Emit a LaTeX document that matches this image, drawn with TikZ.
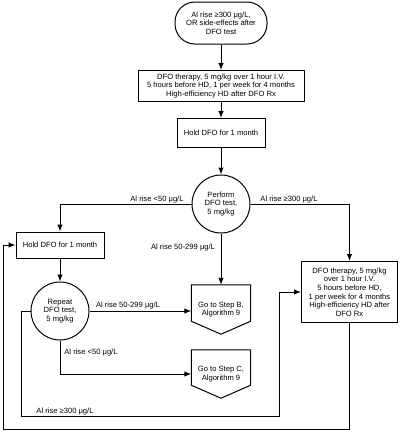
\documentclass[tikz,border=0pt]{standalone}
\usepackage{fontspec}
\setmainfont{Liberation Sans}
\usetikzlibrary{arrows.meta,calc}
\begin{document}
\begin{tikzpicture}[x=1pt,y=-1pt,
  every node/.style={font=\fontsize{7.6}{8.6}\selectfont, inner sep=0pt, align=center},
  bx/.style={draw, line width=1pt},
  pent/.style={minimum width=59pt},
  arr/.style={-{Latex[length=7pt,width=5.5pt]}, line width=1pt},
  ln/.style={line width=1pt},
  lbl/.style={anchor=base, inner sep=0pt}
]
\useasboundingbox (0,0) rectangle (400,432);

\node[bx, rounded corners=20pt, minimum width=92pt, minimum height=42pt] (start) at (221,23) {Al rise ≥300 μg/L,\\OR side-effects after\\DFO test};
\node[bx, minimum width=166pt, minimum height=31pt] (t1) at (221,86) {DFO therapy, 5 mg/kg over 1 hour I.V.\\5 hours before HD, 1 per week for 4 months\\High-efficiency HD after DFO Rx};
\node[bx, minimum width=88pt, minimum height=29pt] (h1) at (221,133) {Hold DFO for 1 month};
\node[bx, circle, minimum size=58pt] (c1) at (221,204) {Perform\\DFO test,\\5 mg/kg};
\node[bx, minimum width=88pt, minimum height=26pt] (h2) at (60,245) {Hold DFO for 1 month};
\node[bx, circle, minimum size=58pt] (c2) at (60,311) {Repeat\\DFO test,\\5 mg/kg};
\node[pent, minimum height=49pt] (gb) at (221,309.5) {Go to Step B,\\Algorithm 9};
\node[pent, minimum height=48pt] (gc) at (221,374) {Go to Step C,\\Algorithm 9};
\node[bx, minimum width=96pt, minimum height=61pt] (t2) at (349.5,292) {DFO therapy, 5 mg/kg\\over 1 hour I.V.\\5 hours before HD,\\1 per week for 4 months\\High-efficiency HD after\\DFO Rx};

\draw[ln] (gb.north west) -- (gb.north east) -- ($(gb.south east)+(0,-13)$) -- (gb.south) -- ($(gb.south west)+(0,-13)$) -- cycle;
\draw[ln] (gc.north west) -- (gc.north east) -- ($(gc.south east)+(0,-13)$) -- (gc.south) -- ($(gc.south west)+(0,-13)$) -- cycle;

\coordinate (lp1) at (21,416);
\coordinate (lp2) at (279,416);
\coordinate (lo2) at (3,429);

\draw[arr] (start) -- (t1);
\draw[arr] (t1) -- (h1);
\draw[arr] (h1) -- (c1);
\draw[arr] (c1.west) -| (h2.north);
\draw[arr] (c1.east) -| (t2.north);
\draw[arr] (c1.south) -- (gb.north);
\draw[arr] (h2) -- (c2);
\draw[arr] (c2.east) -- (c2.east -| gb.west);
\draw[arr] (c2.south) |- (gc.west);
\draw[arr] (c2.west) -| (lp1) -- (lp2) |- (t2.west);
\draw[arr] (t2.south) |- (lo2) |- (h2.west);

\node[lbl] (l1) at (157,201) {Al rise <50 μg/L};
\node[lbl] (l2) at (289,201) {Al rise ≥300 μg/L};
\node[lbl] (l3) at (183,249) {Al rise 50-299 μg/L};
\node[lbl] (l4) at (128,307) {Al rise 50-299 μg/L};
\node[lbl] (l5) at (91,354) {Al rise <50 μg/L};
\node[lbl] (l6) at (65,413) {Al rise ≥300 μg/L};
\end{tikzpicture}
\end{document}
